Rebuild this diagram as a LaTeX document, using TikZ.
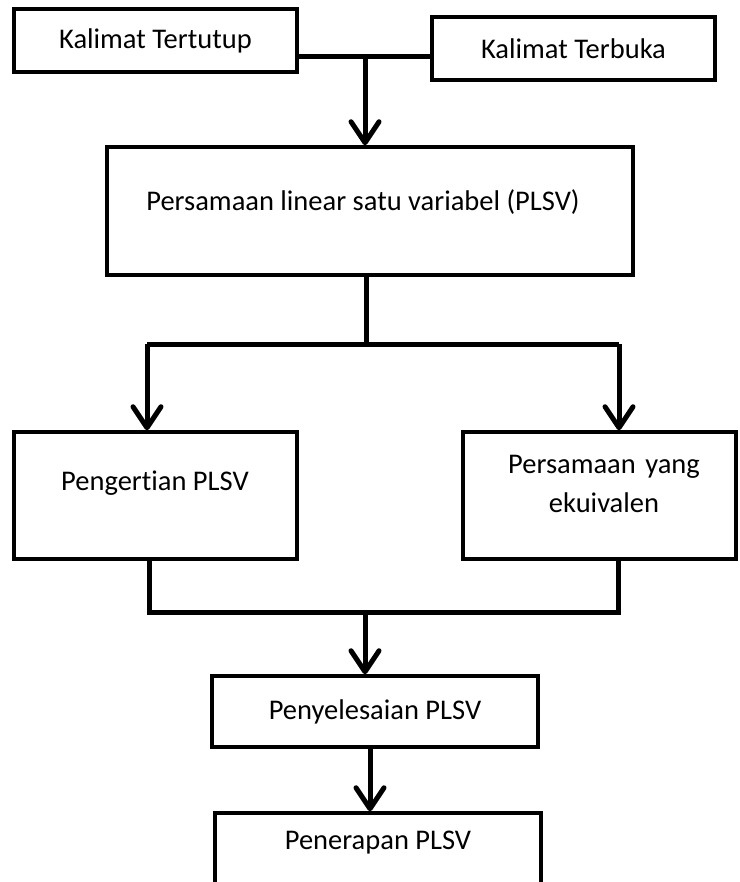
\documentclass[tikz,border=0pt]{standalone}
\usepackage{fontspec}
\setmainfont[RawFeature={-liga}]{Carlito}
\usetikzlibrary{arrows.meta}
\begin{document}
\begin{tikzpicture}[x=1pt,y=-1pt,
  box/.style={draw=black, line width=3.5pt, rectangle, inner sep=0pt, font=\fontsize{28.5}{35}\selectfont, align=center},
  txt/.style={inner sep=0pt, font=\fontsize{28.5}{39}\selectfont, align=center},
  conn/.style={line width=5pt, line join=miter},
  arr/.style={conn, -{Straight Barb[length=21pt,width=28pt,line width=5pt,round]}}
]
\useasboundingbox (0,0) rectangle (739,882);
% boxes
\node[box, minimum width=283pt, minimum height=63pt] (b1) at (155.5,40.5) {Kalimat Tertutup};
\node[box, minimum width=283pt, minimum height=63pt] (b2) at (573.5,48.5) {Kalimat Terbuka};
\node[box, minimum width=526pt, minimum height=128pt] (b3) at (370,211) {};
\node[txt] (t3) at (363,202) {Persamaan linear satu variabel (PLSV)};
\node[box, minimum width=273pt, minimum height=127pt] (b5) at (599.5,495.5) {};
\node[box, minimum width=283pt, minimum height=127pt] (b4) at (155.5,495.5) {};
\node[txt] (t4) at (155,483) {Pengertian PLSV};
\node[txt, text width=273pt] (t5) at (604,484) {Persamaan yang\\ekuivalen};
\node[box, minimum width=326pt, minimum height=71pt] (b6) at (375,711.5) {Penyelesaian PLSV};
\node[box, minimum width=326pt, minimum height=120pt] (b7) at (378,873) {};
\node[txt] (t7) at (378,843) {Penerapan PLSV};
% junction coordinates
\coordinate (j1) at (365,57);
\coordinate (j2) at (366,344);
\coordinate (jl) at (147,344);
\coordinate (jr) at (619,344);
\coordinate (k1) at (149,612);
\coordinate (k2) at (618,612);
\coordinate (k3) at (365,612);
% connectors
\draw[conn] (b1.east |- j1) -- (b2.west |- j1);
\draw[arr] (j1) -- (j1 |- b3.north);
\draw[conn] (j2 |- b3.south) -- (j2);
\draw[conn] (jl) -- (jr);
\draw[arr] (jl) -- (jl |- b4.north);
\draw[arr] (jr) -- (jr |- b5.north);
\draw[conn] (k1 |- b4.south) -- (k1) -- (k2) -- (k2 |- b5.south);
\draw[arr] (k3) -- (k3 |- b6.north);
\draw[arr] (b6.south -| 370,0) -- (370,0 |- b7.north);
\end{tikzpicture}
\end{document}
